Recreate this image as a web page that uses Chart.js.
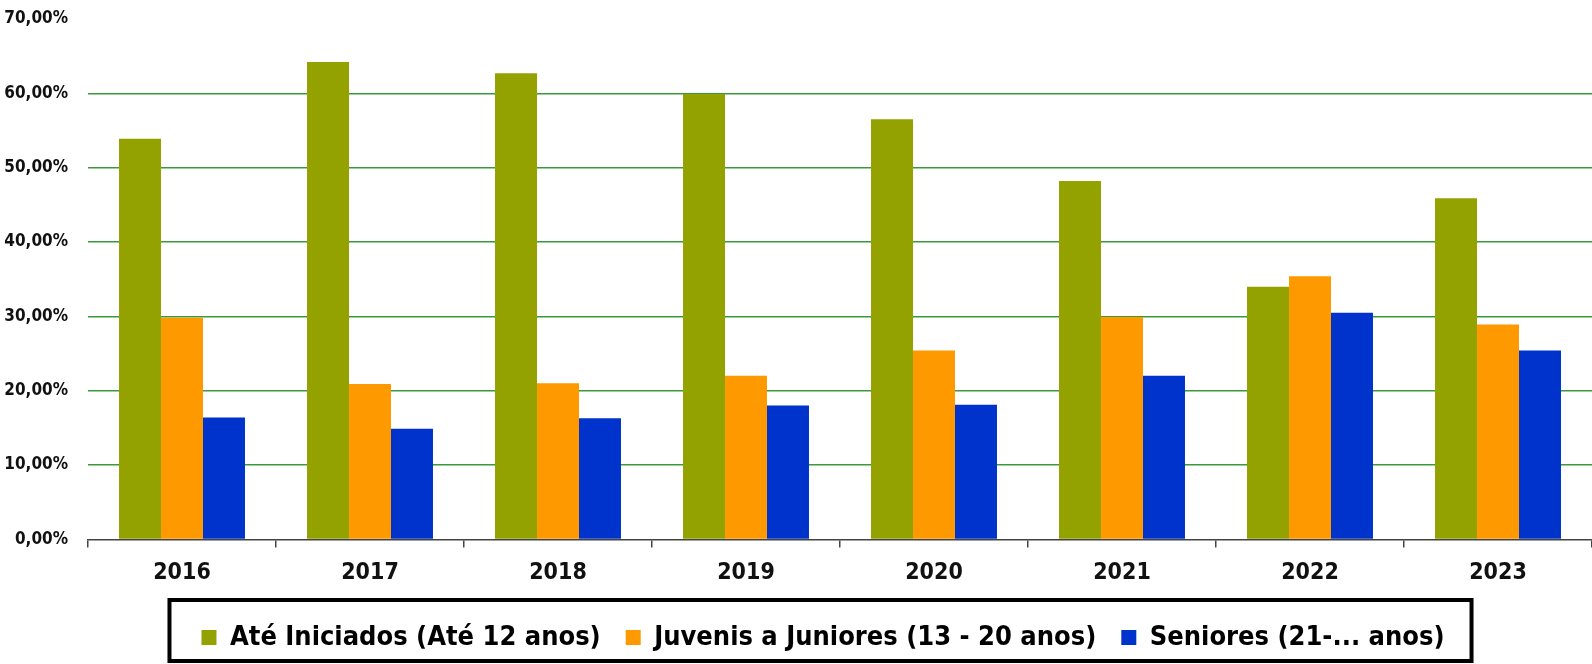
<!DOCTYPE html>
<html>
<head>
<meta charset="utf-8">
<script src="https://cdn.jsdelivr.net/npm/chart.js@4/dist/chart.umd.min.js"></script>
<style>
  html, body { margin: 0; padding: 0; background: #fff; }
  #wrap { width: 1592px; height: 664px; position: relative; }
</style>
</head>
<body>
<div id="wrap"><canvas id="chart"></canvas></div>
<script>
const years = ["2016", "2017", "2018", "2019", "2020", "2021", "2022", "2023"];
const ateIniciados = [53.9, 64.2, 62.7, 59.9, 56.5, 48.2, 34.0, 45.9];
const juvenisJuniores = [29.8, 20.9, 21.0, 22.0, 25.4, 29.9, 35.4, 28.9];
const seniores = [16.4, 14.9, 16.3, 18.0, 18.1, 22.0, 30.5, 25.4];
const seriesNames = ["Até Iniciados (Até 12 anos)", "Juvenis a Juniores (13 - 20 anos)", "Seniores (21-... anos)"];

const FONT = "'Liberation Sans Narrow', 'DejaVu Sans Condensed', 'Liberation Sans', sans-serif";

// moves the legend a little right and draws the thick black frame round it
const legendFrame = {
  id: "legendFrame",
  afterLayout(chart) {
    chart.legend.left += 27;
    chart.legend.right += 27;
  },
  afterDraw(chart) {
    const boxes = chart.legend.legendHitBoxes;
    if (!boxes || !boxes.length) return;
    const first = boxes[0];
    const last = boxes[boxes.length - 1];
    const ctx = chart.ctx;
    ctx.save();
    ctx.strokeStyle = "#000";
    ctx.lineWidth = 4;
    ctx.strokeRect(first.left - 32, first.top - 24, last.left + last.width - first.left + 59, 61);
    ctx.restore();
  }
};

new Chart(document.getElementById("chart"), {
  type: "bar",
  data: {
    labels: years,
    datasets: [
      { label: seriesNames[0], data: ateIniciados, backgroundColor: "#94a200" },
      { label: seriesNames[1], data: juvenisJuniores, backgroundColor: "#ff9900" },
      { label: seriesNames[2], data: seniores, backgroundColor: "#0033cc" }
    ]
  },
  options: {
    responsive: true,
    maintainAspectRatio: false,
    animation: false,
    layout: { padding: { top: 0, left: 0, right: 0, bottom: 3 } },
    datasets: { bar: { categoryPercentage: 0.67, barPercentage: 1.0 } },
    plugins: {
      tooltip: { enabled: false },
      legend: {
        position: "bottom",
        labels: {
          color: "#000",
          font: { family: FONT, size: 27, weight: "bold" },
          boxWidth: 15,
          boxHeight: 15,
          padding: 25
        }
      }
    },
    scales: {
      x: {
        grid: {
          offset: true,
          drawOnChartArea: false,
          tickLength: 8,
          color: "#444",
          lineWidth: 1.5
        },
        border: { display: true, color: "#444", width: 1.5 },
        ticks: {
          color: "#111",
          padding: 12,
          font: { family: FONT, size: 23, weight: "bold" }
        }
      },
      y: {
        min: 0,
        max: 70,
        afterFit(scale) {
          scale.width = 88;
          scale.paddingTop = 19;
        },
        grid: {
          drawTicks: false,
          lineWidth: 1.5,
          color: (ctx) => (ctx.tick && (ctx.tick.value === 0 || ctx.tick.value === 70)) ? "rgba(0,0,0,0)" : "#3a9a3a"
        },
        border: { display: false },
        ticks: {
          stepSize: 10,
          padding: 20,
          color: "#111",
          font: { family: FONT, size: 17, weight: "bold" },
          callback: (v) => v.toFixed(2).replace(".", ",") + "%"
        }
      }
    }
  },
  plugins: [legendFrame]
});
</script>
</body>
</html>
